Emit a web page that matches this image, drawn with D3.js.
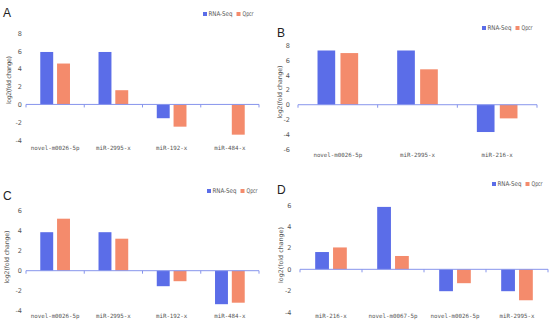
<!DOCTYPE html>
<html>
<head>
<meta charset="utf-8">
<script src="https://cdn.jsdelivr.net/npm/d3@7"></script>
<style>
  body { margin: 0; background: #fff; }
</style>
</head>
<body>
<div class="canvas"></div>
<script>
//data for each panel
const catsA = ['novel-m0026-5p', 'miR-2995-x', 'miR-192-x', 'miR-484-x'];
const seqA = [5.9, 5.9, -1.55, 0];
const qpcrA = [4.6, 1.6, -2.5, -3.4];

const catsB = ['novel-m0026-5p', 'miR-2995-x', 'miR-216-x'];
const seqB = [7.35, 7.35, -3.7];
const qpcrB = [7.0, 4.8, -1.85];

const catsC = ['novel-m0026-5p', 'miR-2995-x', 'miR-192-x', 'miR-484-x'];
const seqC = [3.85, 3.85, -1.55, -3.35];
const qpcrC = [5.2, 3.2, -1.05, -3.2];

const catsD = ['miR-216-x', 'novel-m0067-5p', 'novel-m0026-5p', 'miR-2995-x'];
const seqD = [1.62, 5.85, -2.05, -2.05];
const qpcrD = [2.05, 1.25, -1.3, -2.9];

const seriesNames = ['RNA-Seq', 'Qpcr'];
const colors = ['#5b6de8', '#f48b6c'];

//panel layout
const panels = [
  { letter: 'A', cats: catsA, seq: seqA, qpcr: qpcrA, yDom: [-4, 8], yPx: [140, 33.3], xPx: [26, 259],
    ticks: [-4, -2, 0, 2, 4, 6, 8], tickX: 22, labY: 150, yLabX: 8.5, yLabY: 80, yLabLen: 48, letterXY: [3, 17], legXY: [203, 14] },
  { letter: 'B', cats: catsB, seq: seqB, qpcr: qpcrB, yDom: [-6, 8], yPx: [149, 45.7], xPx: [298, 537],
    ticks: [-6, -4, -2, 0, 2, 4, 6, 8], tickX: 290, labY: 157, yLabX: 279, yLabY: 92, yLabLen: 53, letterXY: [277, 37], legXY: [482, 28] },
  { letter: 'C', cats: catsC, seq: seqC, qpcr: qpcrC, yDom: [-4, 6], yPx: [310.7, 210.7], xPx: [26, 259],
    ticks: [-4, -2, 0, 2, 4, 6], tickX: 22, labY: 318, yLabX: 6, yLabY: 257, yLabLen: 53, letterXY: [3, 200], legXY: [207, 191] },
  { letter: 'D', cats: catsD, seq: seqD, qpcr: qpcrD, yDom: [-4, 6], yPx: [312, 205.3], xPx: [300, 548],
    ticks: [-4, -2, 0, 2, 4, 6], tickX: 291.5, labY: 318, yLabX: 280, yLabY: 255, yLabLen: 56, letterXY: [277, 194], legXY: [492, 184] }
];

const svg = d3.select('.canvas').append('svg').attr('width', 550).attr('height', 327);

panels.forEach(p => {
  const g = svg.append('g');

  const y = d3.scaleLinear().domain(p.yDom).range(p.yPx);
  const x0 = d3.scaleBand().domain(p.cats).range(p.xPx).padding(0);
  const x1 = d3.scaleBand().domain(seriesNames).range([0, x0.bandwidth()])
    .paddingInner(0.23).paddingOuter(0.85);

  //bars
  const rows = p.cats.map((c, i) => ({ cat: c, vals: [p.seq[i], p.qpcr[i]] }));
  const grp = g.selectAll('.cat').data(rows).join('g')
    .attr('transform', d => `translate(${x0(d.cat)},0)`);
  grp.selectAll('rect')
    .data(d => d.vals.map((v, k) => ({ k, v })))
    .join('rect')
    .attr('x', d => x1(seriesNames[d.k]))
    .attr('width', x1.bandwidth())
    .attr('y', d => y(Math.max(0, d.v)))
    .attr('height', d => Math.abs(y(d.v) - y(0)))
    .attr('fill', d => colors[d.k]);

  //zero axis with category ticks
  g.append('line')
    .attr('x1', p.xPx[0]).attr('x2', p.xPx[1])
    .attr('y1', y(0)).attr('y2', y(0))
    .attr('stroke', '#8795ec').attr('stroke-width', 1);
  const bounds = p.cats.map(c => x0(c)).concat([p.xPx[1]]);
  g.selectAll('.tk').data(bounds).join('line')
    .attr('x1', d => d).attr('x2', d => d)
    .attr('y1', y(0)).attr('y2', y(0) + 3)
    .attr('stroke', '#8795ec').attr('stroke-width', 1);

  //y tick labels
  g.selectAll('.yt').data(p.ticks).join('text')
    .attr('x', p.tickX).attr('y', d => y(d) + 2.5)
    .attr('text-anchor', 'end')
    .attr('fill', '#555')
    .style('font', '6.5px "DejaVu Sans"')
    .text(d => d);

  //category labels
  g.selectAll('.cl').data(p.cats).join('text')
    .attr('x', d => x0(d) + x0.bandwidth() / 2)
    .attr('y', p.labY)
    .attr('text-anchor', 'middle')
    .attr('fill', '#555')
    .style('font', '5.8px "DejaVu Sans Mono"')
    .text(d => d);

  //y axis title
  g.append('text')
    .attr('transform', `translate(${p.yLabX + 2.5},${p.yLabY}) rotate(-90)`)
    .attr('text-anchor', 'middle')
    .attr('fill', '#555')
    .attr('textLength', p.yLabLen)
    .attr('lengthAdjust', 'spacing')
    .style('font', '6.3px "DejaVu Sans"')
    .text('log2(fold change)');

  //panel letter
  g.append('text')
    .attr('x', p.letterXY[0]).attr('y', p.letterXY[1])
    .attr('fill', '#222')
    .style('font', '12px "Liberation Sans"')
    .text(p.letter);

  //legend
  const leg = g.append('g').attr('transform', `translate(${p.legXY[0]},${p.legXY[1]})`);
  leg.append('rect').attr('x', 0).attr('y', -2).attr('width', 4).attr('height', 4).attr('fill', colors[0]);
  leg.append('text').attr('x', 5.5).attr('y', 2.2).attr('fill', '#555')
    .attr('textLength', 24).attr('lengthAdjust', 'spacingAndGlyphs')
    .style('font', '6.5px "DejaVu Sans"').text(seriesNames[0]);
  leg.append('rect').attr('x', 33.5).attr('y', -2).attr('width', 4).attr('height', 4).attr('fill', colors[1]);
  leg.append('text').attr('x', 39.5).attr('y', 2.2).attr('fill', '#555')
    .attr('textLength', 11).attr('lengthAdjust', 'spacingAndGlyphs')
    .style('font', '6.5px "DejaVu Sans"').text(seriesNames[1]);
});
</script>
</body>
</html>
